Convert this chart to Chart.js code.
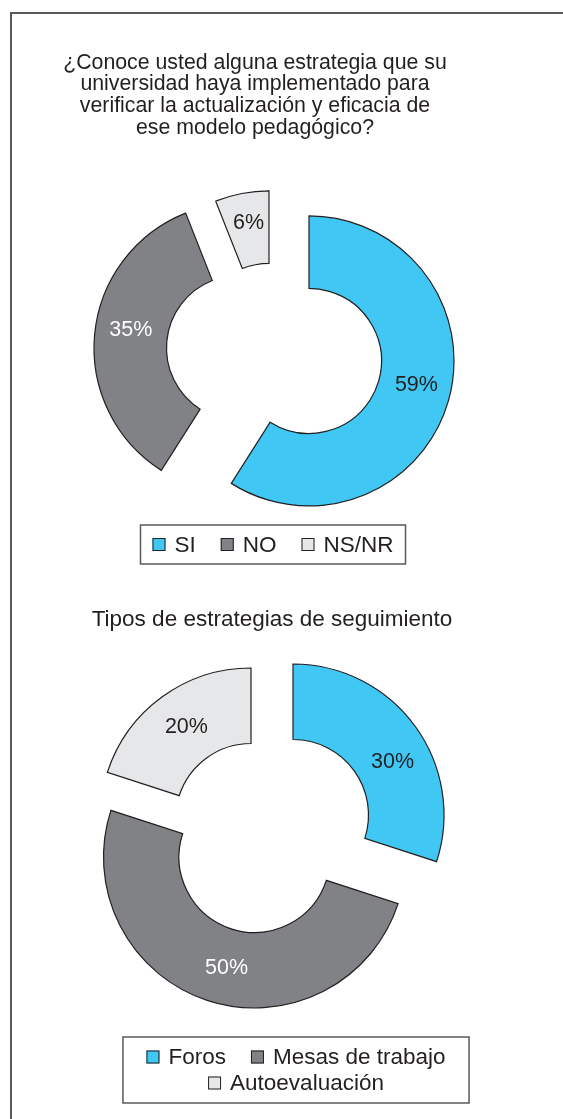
<!DOCTYPE html>
<html>
<head>
<meta charset="utf-8">
<script src="https://cdn.jsdelivr.net/npm/chart.js@4"></script>
<style>
  body { margin: 0; background: #fff; }
  #frame { position: absolute; left: 10px; top: 12px; right: 0; bottom: 0;
           border-top: 2px solid #58595b; border-left: 2px solid #58595b; }
  .wrap { position: absolute; left: 0; width: 563px; }
</style>
</head>
<body>
<div id="frame"></div>
<div class="wrap" style="top:0;height:575px"><canvas id="chart1"></canvas></div>
<div class="wrap" style="top:575px;height:544px"><canvas id="chart2"></canvas></div>
<script>
// data
const title1 = ["¿Conoce usted alguna estrategia que su", "universidad haya implementado para",
                "verificar la actualización y eficacia de", "ese modelo pedagógico?"];
const labels1 = ["SI", "NO", "NS/NR"];
const values1 = [59, 35, 6];

const title2 = "Tipos de estrategias de seguimiento";
const labels2 = ["Foros", "Mesas de trabajo", "Autoevaluación"];
const values2 = [30, 50, 20];

// style
const FONT = "'Liberation Sans', Arial, sans-serif";
const INK = "#231f20";
const colors = ["#40c7f4", "#808285", "#e6e7e8"];
const labelColors = [INK, "#ffffff", INK];

// draws each slice moved by its own shift, like the pulled-apart original
const explodePlugin = {
    id: 'explode',
    beforeDatasetDraw(chart, args, opts) {
        const ctx = chart.ctx;
        args.meta.data.forEach((arc, i) => {
            const s = opts.shifts[i] || [0, 0];
            ctx.save();
            ctx.translate(s[0], s[1]);
            arc.draw(ctx, chart.chartArea);
            ctx.restore();
        });
        return false;
    },
    afterDatasetsDraw(chart, args, opts) {
        const ctx = chart.ctx;
        const meta = chart.getDatasetMeta(0);
        const data = chart.data.datasets[0].data;
        ctx.save();
        ctx.font = `${opts.fontSize}px ${FONT}`;
        ctx.textAlign = 'center';
        ctx.textBaseline = 'middle';
        meta.data.forEach((arc, i) => {
            const p = arc.tooltipPosition();
            const s = opts.shifts[i] || [0, 0];
            const n = opts.nudge[i] || [0, 0];
            ctx.fillStyle = labelColors[i];
            ctx.fillText(data[i] + '%', p.x + s[0] + n[0], p.y + s[1] + n[1]);
        });
        ctx.restore();
    }
};

// legend with a frame round it, rows wrapped like the original
const boxLegend = {
    id: 'boxLegend',
    afterDraw(chart, args, o) {
        const ctx = chart.ctx;
        const items = chart.data.labels;
        const bg = chart.data.datasets[0].backgroundColor;
        ctx.save();
        ctx.font = `${o.fontSize}px ${FONT}`;
        const rows = [[]];
        let rowW = 0;
        items.forEach((t, i) => {
            const w = o.box + o.boxGap + ctx.measureText(t).width;
            if (rows[rows.length - 1].length && rowW + o.itemGap + w > o.maxWidth) {
                rows.push([]);
                rowW = 0;
            }
            rowW += (rows[rows.length - 1].length ? o.itemGap : 0) + w;
            rows[rows.length - 1].push({t, i, w});
        });
        const widths = rows.map(r => r.reduce((a, it) => a + it.w, 0) + o.itemGap * (r.length - 1));
        const maxW = Math.max(...widths);
        const boxH = o.padY * 2 + rows.length * o.rowH;

        ctx.strokeStyle = '#58595b';
        ctx.lineWidth = 1.5;
        ctx.strokeRect(o.centerX - maxW / 2 - o.padX, o.top, maxW + 2 * o.padX, boxH);

        ctx.textBaseline = 'middle';
        ctx.textAlign = 'left';
        rows.forEach((r, ri) => {
            let x = o.centerX - widths[ri] / 2;
            const y = o.top + o.padY + o.rowH * ri + o.rowH / 2;
            r.forEach(it => {
                ctx.fillStyle = bg[it.i];
                ctx.fillRect(x, y - o.box / 2, o.box, o.box);
                ctx.strokeStyle = INK;
                ctx.lineWidth = 1;
                ctx.strokeRect(x + 0.5, y - o.box / 2 + 0.5, o.box - 1, o.box - 1);
                ctx.fillStyle = INK;
                ctx.fillText(it.t, x + o.box + o.boxGap, y + 1);
                x += it.w + o.itemGap;
            });
        });
        ctx.restore();
    }
};

function makeChart(id, labels, values, title, cfg) {
    return new Chart(document.getElementById(id), {
        type: 'doughnut',
        data: {
            labels: labels,
            datasets: [{
                data: values,
                backgroundColor: colors,
                borderColor: INK,
                borderWidth: 1.2,
                borderJoinStyle: 'miter'
            }]
        },
        options: {
            responsive: true,
            maintainAspectRatio: false,
            animation: false,
            radius: cfg.radius,
            cutout: '50%',
            layout: { padding: cfg.padding },
            plugins: {
                legend: { display: false },
                tooltip: { enabled: false },
                title: {
                    display: true,
                    text: title,
                    color: INK,
                    font: { family: FONT, size: cfg.titleSize, weight: 'normal', lineHeight: cfg.titleLine },
                    padding: cfg.titlePadding
                },
                explode: { shifts: cfg.shifts, nudge: cfg.nudge, fontSize: 21.5 },
                boxLegend: cfg.legend
            }
        },
        plugins: [explodePlugin, boxLegend]
    });
}

makeChart('chart1', labels1, values1, title1, {
    radius: 145,
    padding: { top: 0, left: 0, right: 53, bottom: 35 },
    titleSize: 21.3,
    titleLine: 1.02,
    titlePadding: { top: 52, bottom: 21 },
    shifts: [[54, 11], [-16, -2], [14, -14]],
    nudge: [[3, -6], [0, -8], [0, -6]],
    legend: { top: 525, centerX: 273, maxWidth: 400, fontSize: 22.5, box: 13, boxGap: 9,
              itemGap: 25, rowH: 26, padX: 12, padY: 6.5 }
});

makeChart('chart2', labels2, values2, title2, {
    radius: 151,
    padding: { top: 0, left: 0, right: 19, bottom: 128 },
    titleSize: 22.5,
    titleLine: 1.0,
    titlePadding: { top: 34, bottom: 13.5 },
    shifts: [[21, -3], [-17.5, 39], [-21, 1]],
    nudge: [[8, 14], [7, 3], [2, 0]],
    legend: { top: 462, centerX: 296, maxWidth: 400, fontSize: 22.5, box: 13, boxGap: 9,
              itemGap: 25, rowH: 26, padX: 23.5, padY: 7 }
});
</script>
</body>
</html>
